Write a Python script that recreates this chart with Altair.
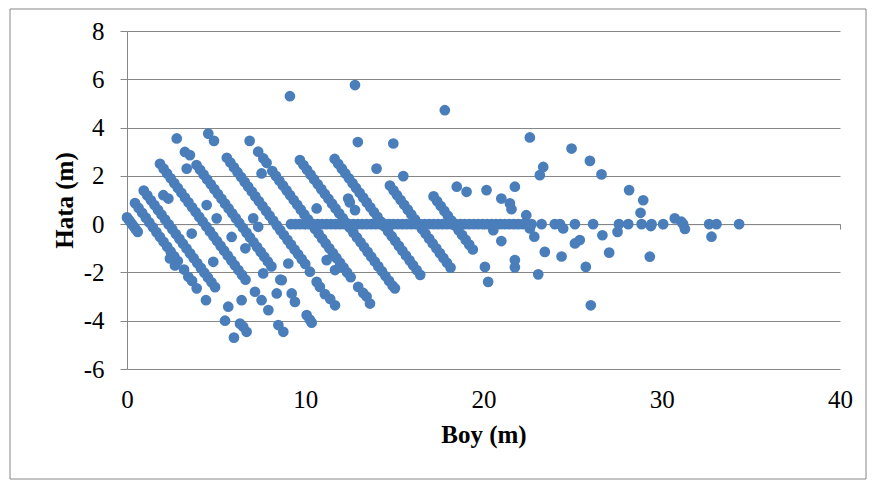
import altair as alt
import pandas as pd

# (Boy, Hata) pairs, grouped by visible band
band_a = [(0.0, 0.28), (0.1, 0.18), (0.2, 0.08), (0.3, -0.02), (0.4, -0.12), (0.5, -0.22), (0.6, -0.32)]

band_b = [(0.45, 0.87), (0.65, 0.67), (0.85, 0.47), (1.05, 0.27), (1.25, 0.07), (1.45, -0.13), (1.65, -0.33),
          (1.85, -0.53), (2.05, -0.73), (2.25, -0.93), (2.45, -1.13), (2.65, -1.33), (2.85, -1.53),
          (3.2, -1.88), (3.44, -2.18), (3.65, -2.35), (3.91, -2.66), (4.43, -3.15), (5.5, -4.0), (6.0, -4.7)]

band_c = [(0.94, 1.39), (1.14, 1.19), (1.34, 0.99), (1.54, 0.79), (1.74, 0.59), (1.94, 0.39), (2.14, 0.19),
          (2.34, -0.01), (2.54, -0.21), (2.74, -0.41), (2.94, -0.61), (3.14, -0.81), (3.34, -1.01), (3.54, -1.21),
          (3.74, -1.41), (3.94, -1.61), (4.14, -1.81), (4.34, -2.01), (4.54, -2.21), (4.74, -2.41), (4.94, -2.61),
          (5.68, -3.42), (6.34, -4.12), (6.52, -4.25), (6.71, -4.46)]

band_d = [(1.85, 2.5), (2.05, 2.3), (2.25, 2.1), (2.45, 1.9), (2.65, 1.7), (2.85, 1.5), (3.05, 1.3), (3.25, 1.1),
          (3.45, 0.9), (3.65, 0.7), (3.85, 0.5), (4.05, 0.3), (4.25, 0.1), (4.45, -0.1), (4.65, -0.3), (4.85, -0.5),
          (5.05, -0.7), (5.25, -0.9), (5.45, -1.1), (5.65, -1.3), (5.85, -1.5), (6.05, -1.7), (6.25, -1.9),
          (6.45, -2.1), (6.65, -2.3), (7.18, -2.8), (7.55, -3.15), (7.93, -3.56), (8.49, -4.18), (8.77, -4.46)]

band_e = [(2.79, 3.55), (3.25, 2.99), (3.53, 2.86), (3.9, 2.45), (4.1, 2.25), (4.3, 2.05), (4.5, 1.85), (4.7, 1.65),
          (4.9, 1.45), (5.1, 1.25), (5.3, 1.05), (5.5, 0.85), (5.7, 0.65), (5.9, 0.45), (6.1, 0.25), (6.3, 0.05),
          (6.5, -0.15), (6.7, -0.35), (6.9, -0.55), (7.1, -0.75), (7.3, -0.95), (7.5, -1.15), (7.7, -1.35),
          (7.9, -1.55), (8.1, -1.75), (8.6, -2.3), (9.24, -2.87), (9.42, -3.22), (10.08, -3.77), (10.25, -3.95),
          (10.36, -4.08)]

band_f = [(4.56, 3.75), (4.88, 3.45), (5.6, 2.75), (5.8, 2.55), (6.0, 2.35), (6.2, 2.15), (6.4, 1.95), (6.6, 1.75),
          (6.8, 1.55), (7.0, 1.35), (7.2, 1.15), (7.4, 0.95), (7.6, 0.75), (7.8, 0.55), (8.0, 0.35), (8.2, 0.15),
          (8.4, -0.05), (8.6, -0.25), (8.8, -0.45), (9.0, -0.65), (9.2, -0.85), (9.4, -1.05), (9.6, -1.25),
          (9.8, -1.45), (10.0, -1.65), (10.26, -1.97), (10.64, -2.39), (10.82, -2.6), (11.1, -2.9), (11.4, -3.1),
          (11.67, -3.36)]

band_g = [(6.88, 3.45), (7.36, 3.0), (7.65, 2.72), (7.83, 2.54), (8.15, 2.2), (8.35, 2.0), (8.55, 1.8), (8.75, 1.6),
          (8.95, 1.4), (9.15, 1.2), (9.35, 1.0), (9.55, 0.8), (9.75, 0.6), (9.95, 0.4), (10.15, 0.2), (10.35, 0.0),
          (10.55, -0.2), (10.75, -0.4), (10.95, -0.6), (11.15, -0.8), (11.35, -1.0), (11.55, -1.2), (11.75, -1.4),
          (11.95, -1.6), (12.15, -1.8), (12.35, -2.0), (12.55, -2.2), (12.97, -2.6), (13.25, -2.85), (13.44, -3.0),
          (13.63, -3.29)]

band_h = [(9.7, 2.65), (9.9, 2.45), (10.1, 2.25), (10.3, 2.05), (10.5, 1.85), (10.7, 1.65), (10.9, 1.45),
          (11.1, 1.25), (11.3, 1.05), (11.5, 0.85), (11.7, 0.65), (11.9, 0.45), (12.1, 0.25), (12.3, 0.05),
          (12.5, -0.15), (12.7, -0.35), (12.9, -0.55), (13.1, -0.75), (13.3, -0.95), (13.5, -1.15), (13.7, -1.35),
          (13.9, -1.55), (14.1, -1.75), (14.3, -1.95), (14.5, -2.15), (14.7, -2.35), (14.9, -2.55), (15.03, -2.66)]

band_i = [(11.65, 2.7), (11.85, 2.5), (12.05, 2.3), (12.25, 2.1), (12.45, 1.9), (12.65, 1.7), (12.85, 1.5),
          (13.05, 1.3), (13.25, 1.1), (13.45, 0.9), (13.65, 0.7), (13.85, 0.5), (14.05, 0.3), (14.25, 0.1),
          (14.45, -0.1), (14.65, -0.3), (14.85, -0.5), (15.05, -0.7), (15.25, -0.9), (15.45, -1.1), (15.65, -1.3),
          (15.85, -1.5), (16.05, -1.7), (16.25, -1.9), (16.45, -2.1)]

band_j = [(12.95, 3.4), (14.0, 2.3), (14.75, 1.6), (14.95, 1.4), (15.15, 1.2), (15.35, 1.0), (15.55, 0.8),
          (15.75, 0.6), (15.95, 0.4), (16.15, 0.2), (16.35, 0.0), (16.55, -0.2), (16.75, -0.4), (16.95, -0.6),
          (17.15, -0.8), (17.35, -1.0), (17.55, -1.2), (17.75, -1.4), (17.95, -1.6), (18.15, -1.8)]

band_k = [(14.94, 3.34), (17.2, 1.15), (17.4, 0.95), (17.6, 0.75), (17.8, 0.55), (18.0, 0.35), (18.2, 0.15),
          (18.4, -0.05), (18.6, -0.25), (18.8, -0.45), (19.0, -0.65), (19.2, -0.85), (19.4, -1.05)]

zero_dense = [9.2, 9.45, 9.7, 9.95, 10.2, 10.45, 10.7, 10.95, 11.2, 11.45, 11.7, 11.95, 12.2, 12.45, 12.7, 12.95,
              13.2, 13.45, 13.7, 13.95, 14.2, 14.45, 14.7, 14.95, 15.2, 15.45, 15.7, 15.95, 16.2, 16.45, 16.7,
              16.95, 17.2, 17.45, 17.7, 17.95, 18.2, 18.45, 18.7, 18.95, 19.2, 19.45, 19.7, 19.95, 20.2, 20.45,
              20.7, 20.95, 21.2, 21.45, 21.7, 21.95, 22.2, 22.45, 22.7]
zero_sparse = [23.26, 24.0, 24.29, 25.13, 26.15, 27.6, 28.12, 28.87, 29.43, 30.08, 31.2, 32.66, 33.07, 34.34]

left_scatter = [(2.04, 1.2), (2.32, 1.06), (3.35, 2.3), (4.47, 0.79), (5.03, 0.24), (3.63, -0.39), (5.87, -0.53),
                (4.84, -1.56), (6.43, -3.15), (7.08, 0.24), (7.36, -0.11), (7.55, 2.1), (6.64, -1.0), (7.64, -2.04),
                (8.4, -2.87), (8.68, -2.32), (9.05, -1.63), (2.41, -1.42), (2.69, -1.71), (10.64, 0.65),
                (12.41, 1.06), (12.5, 0.9), (12.79, 0.58), (11.2, -1.49), (11.67, -1.9), (15.5, 1.99)]

right_scatter = [(18.5, 1.55), (19.05, 1.34), (20.17, 1.41), (21.0, 1.06), (21.48, 0.86), (21.57, 0.62),
                 (21.76, 1.55), (22.4, 0.37), (20.55, -0.25), (21.0, -0.7), (20.08, -1.77), (20.26, -2.39),
                 (21.76, -1.49), (21.76, -1.79), (22.6, -0.18), (22.85, -0.52), (23.44, -1.15), (23.07, -2.08),
                 (24.47, -0.18), (24.38, -1.34), (25.13, -0.8), (25.4, -0.66), (25.74, -1.77), (26.02, -3.36),
                 (26.67, -0.46), (27.05, -1.18), (27.52, -0.32), (29.33, -1.35), (29.39, -0.08), (30.73, 0.24),
                 (31.1, 0.1), (31.3, -0.2), (32.79, -0.52)]

high_points = [(9.14, 5.3), (12.79, 5.76), (17.83, 4.72), (22.6, 3.59), (23.35, 2.37), (23.16, 2.03),
               (24.94, 3.13), (25.97, 2.62), (26.62, 2.06), (28.17, 1.41), (28.96, 0.99), (28.81, 0.47)]

pair_groups = [band_a, band_b, band_c, band_d, band_e, band_f, band_g, band_h, band_i, band_j, band_k,
               left_scatter, right_scatter, high_points]
rows = [{"boy": b, "hata": h} for g in pair_groups for b, h in g]
rows += [{"boy": b, "hata": 0.0} for b in zero_dense + zero_sparse]
df = pd.DataFrame(rows)

FONT = "Liberation Serif"
GRID = "#868686"
BLUE = "#4A7EBB"

points = alt.Chart(df).mark_circle(size=115, color=BLUE, opacity=1).encode(
    x=alt.X(
        "boy:Q",
        scale=alt.Scale(domain=[0, 40], nice=False, zero=False),
        axis=alt.Axis(
            values=[0, 10, 20, 30, 40], offset=-144.86, grid=False,
            domain=True, domainColor=GRID, ticks=True, tickColor=GRID, tickSize=5,
            labelPadding=158, labelFont=FONT, labelFontSize=25, labelColor="black",
            labelFlush=False, labelOverlap=False,
            title="Boy (m)", titleFont=FONT, titleFontSize=25, titleFontWeight="bold",
            titleColor="black", titlePadding=10,
        ),
    ),
    y=alt.Y(
        "hata:Q",
        scale=alt.Scale(domain=[-6, 8], nice=False, zero=False),
        axis=alt.Axis(
            values=[-6, -4, -2, 0, 2, 4, 6, 8], grid=True, gridColor=GRID, gridWidth=1,
            domain=True, domainColor=GRID, ticks=True, tickColor=GRID, tickSize=7,
            labelPadding=16, labelFont=FONT, labelFontSize=25, labelColor="black",
            labelExpr="'' + datum.value", labelOverlap=False,
            title="Hata (m)", titleFont=FONT, titleFontSize=25, titleFontWeight="bold",
            titleColor="black", titlePadding=6,
        ),
    ),
)

frame = alt.Chart(pd.DataFrame({"f": [0]})).mark_rect(
    fill="transparent", stroke=GRID, strokeWidth=1
).encode(x=alt.value(-117), x2=alt.value(739), y=alt.value(-22), y2=alt.value(448))

chart = alt.layer(frame, points).properties(
    width=713,
    height=338,
    autosize=alt.AutoSizeParams(type="none"),
    padding={"left": 119, "top": 23, "right": 27, "bottom": 111},
).configure_view(stroke="transparent")

chart.save("out.html", embed_options={"renderer": "svg", "actions": False})
